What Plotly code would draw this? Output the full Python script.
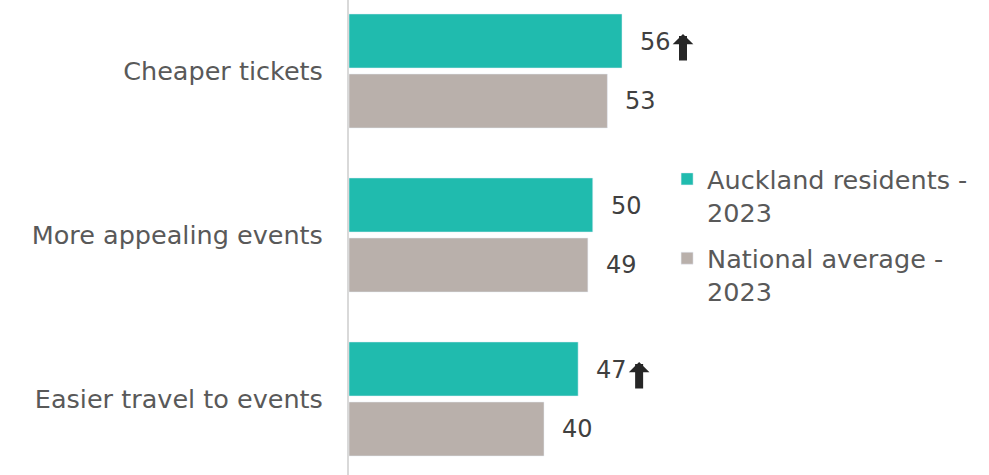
import plotly.graph_objects as go

categories = ["Cheaper tickets", "More appealing events", "Easier travel to events"]
auckland = [56, 50, 47]
national = [53, 49, 40]
auckland_sig_up = [True, False, True]
series_names = ["Auckland residents -<br>2023", "National average -<br>2023"]

TEAL = "#20BBAE"
GREY = "#B9B0AB"
FONT = "DejaVu Sans"
LABEL_COL = "#595959"
VALUE_COL = "#404040"

fig = go.Figure()
fig.add_trace(go.Bar(y=categories, x=auckland, orientation="h", name=series_names[0],
                     marker=dict(color=TEAL), legendgroup="a"))
fig.add_trace(go.Bar(y=categories, x=national, orientation="h", name=series_names[1],
                     marker=dict(color=GREY), legendgroup="b"))

annotations = []
for cat, a, n, sig in zip(categories, auckland, national, auckland_sig_up):
    annotations.append(dict(x=a, y=cat, text=str(a), showarrow=False, xanchor="left",
                            xshift=16, yshift=29, font=dict(family=FONT, size=24, color=VALUE_COL)))
    annotations.append(dict(x=n, y=cat, text=str(n), showarrow=False, xanchor="left",
                            xshift=16, yshift=-30, font=dict(family=FONT, size=24, color=VALUE_COL)))
    if sig:
        annotations.append(dict(x=a, y=cat, text="", showarrow=True, axref="pixel", ayref="pixel",
                                ax=0, ay=28, xshift=61, yshift=37, arrowhead=1, arrowsize=0.43,
                                arrowwidth=8, arrowcolor="#262626"))

fig.update_layout(
    width=989, height=475,
    margin=dict(l=349, r=0, t=0, b=0),
    paper_bgcolor="white", plot_bgcolor="white",
    barmode="group", bargap=0.268, bargroupgap=0.1,
    xaxis=dict(range=[0, 131.28], visible=False),
    yaxis=dict(type="category", categoryorder="array", categoryarray=categories,
               range=[2.4634, -0.4329], showline=True, linecolor="#D9D9D9", linewidth=2,
               showgrid=False, zeroline=False, ticks="", ticklabelstandoff=19,
               tickfont=dict(family=FONT, size=25.5, color=LABEL_COL)),
    legend=dict(x=0.497, y=0.672, xanchor="left", yanchor="top", valign="top",
                font=dict(family=FONT, size=25.5, color=LABEL_COL), tracegroupgap=10,
                bgcolor="rgba(0,0,0,0)"),
    annotations=annotations,
    showlegend=True,
)

fig.write_html("out.html")
